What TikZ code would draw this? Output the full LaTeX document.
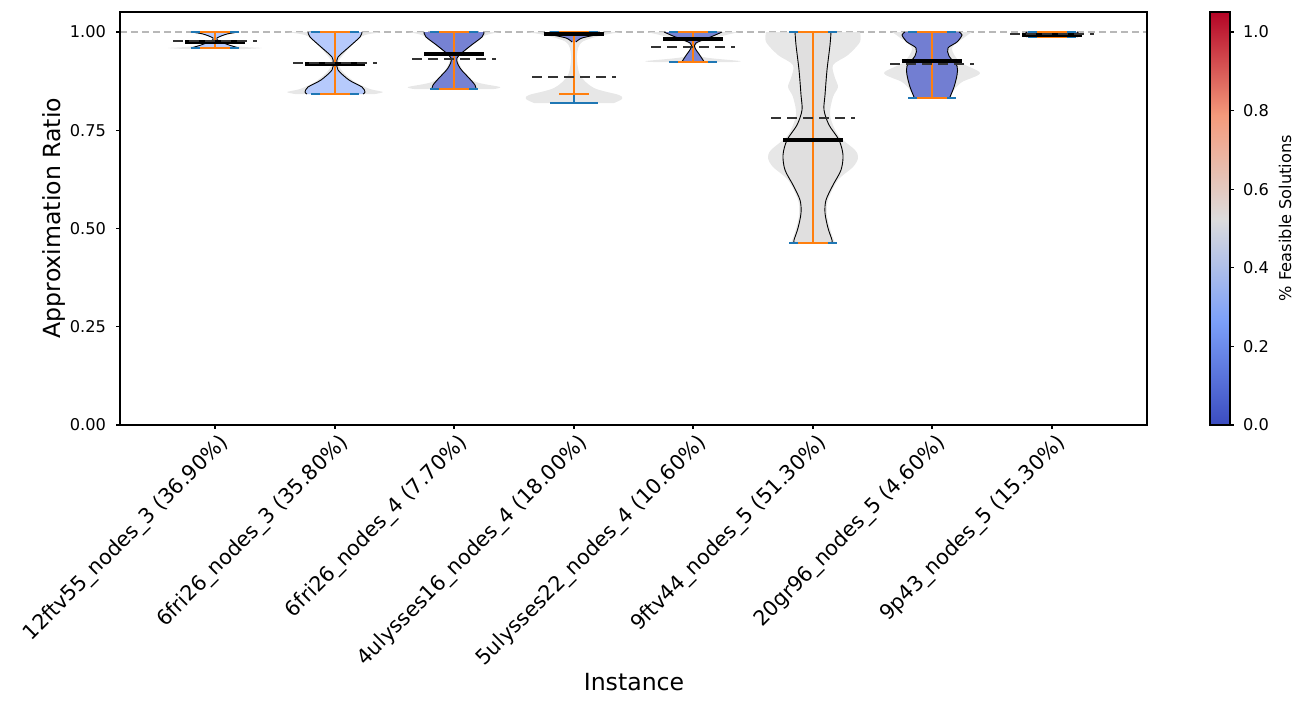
\documentclass[tikz,border=0pt]{standalone}
\usepackage{fontspec}
\setmainfont{DejaVu Sans}
\definecolor{cwA}{HTML}{3B4CC0}
\definecolor{cwB}{HTML}{7B9FF9}
\definecolor{cwC}{HTML}{DDDCDC}
\definecolor{cwD}{HTML}{F49A7B}
\definecolor{cwE}{HTML}{B40426}
\definecolor{mplblue}{HTML}{1F77B4}
\definecolor{mplorange}{HTML}{FF7F0E}
\newcommand\violin[5]{% x, fill, top, bottom, half-widths
  \foreach \s in {1,-1}{
    \begin{scope}[shift={(#1,0)},xscale=\s]
      \fill[#2] (0,#3) -- plot[smooth] coordinates {#5} -- (0,#4) -- cycle;
      \draw[outline] plot[smooth] coordinates {#5};
    \end{scope}}
}
\newcommand\ghost[4]{% x, top, bottom, half-widths
  \foreach \s in {1,-1}{
    \begin{scope}[shift={(#1,0)},xscale=\s]
      \fill[ghostfill] (0,#2) -- plot[smooth] coordinates {#4} -- (0,#3) -- cycle;
    \end{scope}}
}
\newcommand\whisk[4]{% x, top, blue bottom, orange bottom
  \draw[bluecap] (#1,#2) -- (#1,#3) (#1-24,#2) -- (#1+24,#2) (#1-24,#3) -- (#1+24,#3);
  \draw[orcap] (#1,#2) -- (#1,#4) (#1-15,#2) -- (#1+15,#2) (#1-15,#4) -- (#1+15,#4);
}
\newcommand\stats[3]{% x, median, mean
  \draw[median] (#1-30,#2) -- (#1+30,#2);
  \draw[mean] (#1-42,#3) -- (#1+42,#3);
}
\begin{document}
\begin{tikzpicture}[x=0.5pt,y=-0.5pt,
    outline/.style={black,line width=0.45pt},
    ghostfill/.style={fill=black!11,opacity=0.85},
    bluecap/.style={mplblue,line width=1.2pt},
    orcap/.style={mplorange,line width=1.2pt},
    median/.style={black,line width=2.4pt},
    mean/.style={black!80,line width=1.1pt,dash pattern=on 5pt off 3pt},
    tick/.style={black,line width=0.55pt},
    ticklab/.style={font=\fontsize{8.1}{9}\selectfont},
    xlab/.style={font=\fontsize{10.4}{11}\selectfont,rotate=45,anchor=north east,inner sep=1pt},
    axlab/.style={font=\fontsize{11.8}{13}\selectfont}
  ]
  \useasboundingbox (0,0) rectangle (1305,708);

  % reference line at 1.0
  \draw[black!28,line width=0.9pt,dash pattern=on 3.5pt off 2pt] (120,32) -- (1147,32);

  % violins
  \ghost{215}{38}{49}{(1,38) (6,44) (30,47) (47,48) (30,49)}
  \violin{215}{fill=cwB!55}{32}{48}{(24,32) (12,34) (2,38) (4,41) (14,45) (24,48)}
  \whisk{215}{32}{48}{48}
  \stats{215}{42}{41}

  \ghost{335}{32}{94}{(48,32) (30,35) (22,40) (8,55) (3,63) (8,72) (20,82) (35,89) (48,92) (40,94)}
  \violin{335}{fill=cwB!55}{32}{94}{(27,32) (25,37) (14,47) (3,57) (2,63) (3,70) (14,80) (27,87) (30,92) (28,94)}
  \whisk{335}{32}{94}{94}
  \stats{335}{64}{63}

  \ghost{454}{32}{89}{(46,32) (30,36) (15,48) (4,58) (10,72) (22,82) (46,87) (40,89)}
  \violin{454}{fill=cwA!70}{32}{89}{(30,32) (28,37) (15,47) (3,58) (6,68) (15,78) (21,85) (22,89)}
  \whisk{454}{32}{89}{89}
  \stats{454}{54}{59}

  \ghost{574}{32}{103}{(48,32) (30,35) (8,42) (3,55) (6,75) (20,88) (45,95) (48,99) (40,103)}
  \violin{574}{fill=cwA!65}{32}{42}{(30,32) (26,34) (8,38) (2,42)}
  \whisk{574}{32}{103}{94}
  \stats{574}{34}{77}

  \ghost{693}{32}{62}{(46,32) (25,37) (5,43) (3,50) (10,57) (47,61) (40,62)}
  \violin{693}{fill=cwA!68}{32}{62}{(29,32) (20,36) (3,43) (2,48) (6,54) (10,60) (11,62)}
  \whisk{693}{32}{62}{62}
  \stats{693}{39}{47}

  \ghost{813}{32}{243}{(47,32) (47,42) (35,55) (20,65) (22,78) (25,87) (20,97) (17,115) (25,135) (42,150) (45,158) (40,167) (25,180) (15,200) (14,215) (18,232) (22,243)}
  \violin{813}{fill=cwC!90!white}{32}{243}{(18,32) (17,45) (14,70) (12,95) (11,110) (16,125) (26,140) (30,155) (28,170) (20,185) (13,200) (12,213) (15,228) (19,240) (19,243)}
  \whisk{813}{32}{243}{243}
  \stats{813}{140}{118}

  \ghost{932}{32}{98}{(40,32) (33,37) (20,48) (28,62) (48,73) (30,82) (22,90) (18,98)}
  \violin{932}{fill=cwA!72}{32}{98}{(27,32) (30,35) (25,42) (16,48) (17,56) (25,66) (25,75) (22,87) (18,97) (18,98)}
  \whisk{932}{32}{98}{98}
  \stats{932}{61}{64}

  \ghost{1052}{32}{37}{(27,32) (30,35) (27,37)}
  \violin{1052}{fill=cwA!60}{32}{37}{(25,32) (27,34) (25,37)}
  \whisk{1052}{32}{37}{37}
  \stats{1052}{35}{34}

  % axes
  \draw[black,line width=0.6pt] (120,12) rectangle (1147,425);
  \foreach \v/\t in {0/0.00,0.25/0.25,0.5/0.50,0.75/0.75,1/1.00}{
    \draw[tick] (116,425-393*\v) -- (120,425-393*\v);
    \node[ticklab,anchor=east] (ytick\t) at (113,425-393*\v) {\t};
  }
  \foreach \x/\t [count=\i] in {215/12ftv55\_nodes\_3 (36.90\%),335/6fri26\_nodes\_3 (35.80\%),454/6fri26\_nodes\_4 (7.70\%),574/4ulysses16\_nodes\_4 (18.00\%),693/5ulysses22\_nodes\_4 (10.60\%),813/9ftv44\_nodes\_5 (51.30\%),932/20gr96\_nodes\_5 (4.60\%),1052/9p43\_nodes\_5 (15.30\%)}{
    \draw[tick] (\x,425) -- (\x,429);
    \node[xlab] (xtick\i) at (\x+3,429) {\t};
  }
  \node[axlab,rotate=90] (ylabel) at (54,218) {Approximation Ratio};
  \node[axlab] (xlabel) at (634,682) {Instance};

  % colour bar
  \shade[bottom color=cwA,top color=cwB] (1210,425) rectangle (1230,321.75);
  \shade[bottom color=cwB,top color=cwC] (1210,321.75) rectangle (1230,218.5);
  \shade[bottom color=cwC,top color=cwD] (1210,218.5) rectangle (1230,115.25);
  \shade[bottom color=cwD,top color=cwE] (1210,115.25) rectangle (1230,12);
  \draw[black,line width=0.6pt] (1210,12) rectangle (1230,425);
  \foreach \v in {0.0,0.2,0.4,0.6,0.8,1.0}{
    \draw[tick] (1230,425-393*\v) -- (1234,425-393*\v);
    \node[ticklab,anchor=west] at (1236,425-393*\v) {\v};
  }
  \node[ticklab,rotate=90] (cblabel) at (1285,218) {\% Feasible Solutions};
\end{tikzpicture}
\end{document}
